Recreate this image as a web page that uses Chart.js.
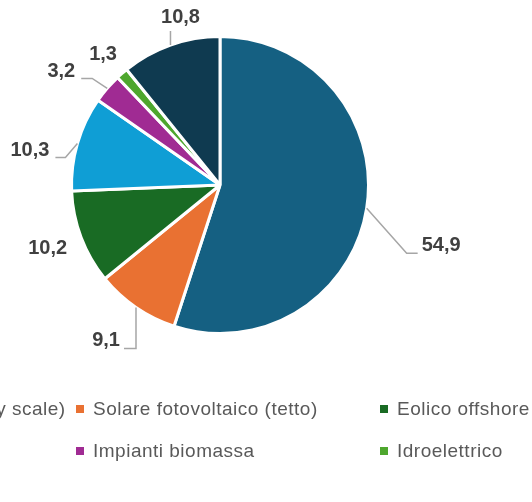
<!DOCTYPE html>
<html>
<head>
<meta charset="utf-8">
<script src="https://cdn.jsdelivr.net/npm/chart.js@4/dist/chart.umd.min.js"></script>
<style>
  html, body { margin: 0; padding: 0; background: #fff; overflow: hidden; }
  #wrap { position: relative; width: 532px; height: 502px; }
  #chart-canvas { position: absolute; left: 0; top: 0; }
  .legend-item { position: absolute; white-space: nowrap; font-family: "Liberation Sans", Arial, sans-serif;
    font-size: 19px; letter-spacing: 0.5px; color: #595959; line-height: 20px; }
  .legend-item i { display: inline-block; width: 8px; height: 8px; margin-right: 9px; vertical-align: 2px; }
</style>
</head>
<body>
<div id="wrap">
  <canvas id="chart-canvas" width="532" height="502"></canvas>
  <div id="legend"></div>
</div>
<script>
var categories = [
    'Solare fotovoltaico (utility scale)',
    'Solare fotovoltaico (tetto)',
    'Eolico offshore',
    'Eolico onshore',
    'Impianti biomassa',
    'Idroelettrico',
    'Altro'
];
var values = [54.9, 9.1, 10.2, 10.3, 3.2, 1.3, 10.8];
var colors = ['#156082', '#E97132', '#196B24', '#0F9ED5', '#A02B93', '#4EA72E', '#0F3A50'];

// where each value label sits, relative to the point on the rim at the slice middle
// line: leader line points (empty = no line), text: label anchor, align: text alignment
var labelPlacement = [
    { line: [[40, 45], [51, 45]], text: [55, 37], align: 'left' },
    { line: [[0, 41], [-12, 41]], text: [-16, 33], align: 'right' },
    { line: [], text: [-14, 11], align: 'right' },
    { line: [[-12, 14], [-22, 14]], text: [-28, 7], align: 'right' },
    { line: [[-15, -10], [-26, -10]], text: [-32, -17], align: 'right' },
    { line: [], text: [-5, -19], align: 'right' },
    { line: [[0, -14]], text: [10, -28], align: 'center' }
];

// legend grid: column x of the marker, row y
var legendCols = [-236, 76, 380];
var legendRows = [399, 441];

var legendBox = document.getElementById('legend');
categories.slice(0, 6).forEach(function (name, i) {
    var el = document.createElement('div');
    el.className = 'legend-item';
    el.style.left = legendCols[i % 3] + 'px';
    el.style.top = legendRows[Math.floor(i / 3)] + 'px';
    el.innerHTML = '<i style="background:' + colors[i] + '"></i>' + name;
    legendBox.appendChild(el);
});

var pieLabels = {
    id: 'pieLabels',
    afterDatasetsDraw: function (chart) {
        var ctx = chart.ctx;
        var arcs = chart.getDatasetMeta(0).data;
        ctx.save();
        arcs.forEach(function (arc, i) {
            var mid = (arc.startAngle + arc.endAngle) / 2;
            var ax = arc.x + Math.cos(mid) * arc.outerRadius;
            var ay = arc.y + Math.sin(mid) * arc.outerRadius;
            var p = labelPlacement[i];
            if (p.line.length) {
                ctx.strokeStyle = '#A6A6A6';
                ctx.lineWidth = 1.5;
                ctx.beginPath();
                ctx.moveTo(ax, ay);
                p.line.forEach(function (pt) { ctx.lineTo(ax + pt[0], ay + pt[1]); });
                ctx.stroke();
            }
            ctx.fillStyle = '#404040';
            ctx.font = 'bold 20px "Liberation Sans", Arial, sans-serif';
            ctx.textAlign = p.align;
            ctx.textBaseline = 'middle';
            ctx.fillText(values[i].toFixed(1).replace('.', ','), ax + p.text[0], ay + p.text[1]);
        });
        ctx.restore();
    }
};

new Chart(document.getElementById('chart-canvas'), {
    type: 'pie',
    data: {
        labels: categories,
        datasets: [{
            data: values,
            backgroundColor: colors,
            borderColor: '#ffffff',
            borderWidth: 3,
            hoverOffset: 0
        }]
    },
    options: {
        responsive: false,
        animation: false,
        layout: { padding: { left: 70, right: 162, top: 35, bottom: 167 } },
        plugins: {
            legend: { display: false },
            tooltip: { enabled: false }
        }
    },
    plugins: [pieLabels]
});
</script>
</body>
</html>
